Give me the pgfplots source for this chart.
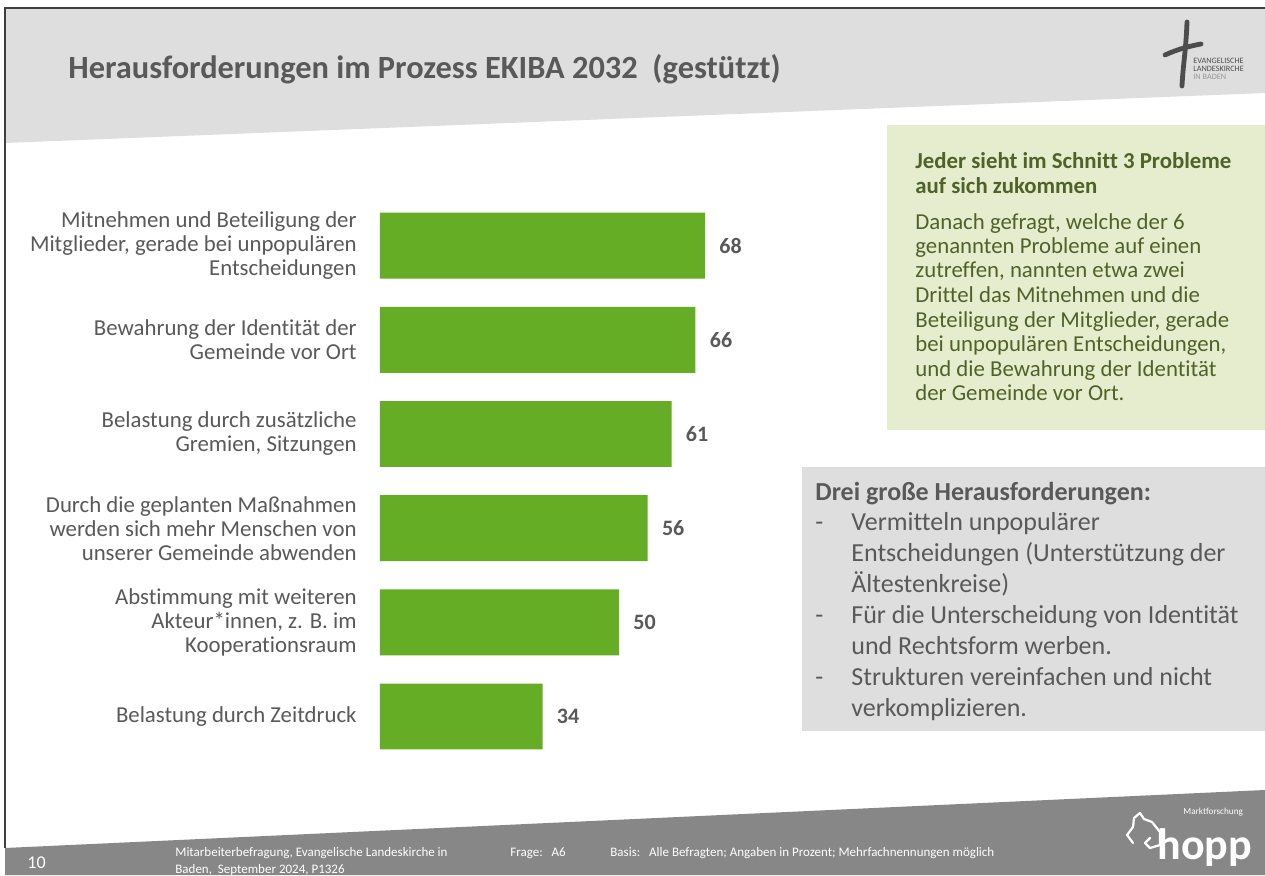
\documentclass[border=0pt]{standalone}
\usepackage{fontspec}
\setmainfont{Carlito}[Ligatures=NoCommon]
\usepackage{pgfplots}
\pgfplotsset{compat=1.18}
\definecolor{bargreen}{HTML}{64AD24}
\definecolor{hdrgrey}{HTML}{DEDEDE}
\definecolor{txtgrey}{HTML}{595959}
\definecolor{boxgreen}{HTML}{E6EDCF}
\definecolor{olive}{HTML}{4F6228}
\definecolor{footgrey}{HTML}{878787}
\definecolor{bordercol}{HTML}{3F3F3F}
\definecolor{logogrey}{HTML}{4D4D4D}
\begin{document}
\begin{tikzpicture}
\path[use as bounding box] (0,0) rectangle (632.5pt,437.5pt);
\fill[white] (0,0) rectangle (632.5pt,437.5pt);
\begin{scope}[x=0.5pt,y=-0.5pt,yshift=437.5pt]
% header band and footer band
\fill[hdrgrey] (5,8) -- (1265,8) -- (1265,93) -- (5,143) -- cycle;
\fill[footgrey] (5,848) -- (1265,790) -- (1265,875) -- (5,875) -- cycle;
\draw[bordercol,line width=0.8pt] (5,848) -- (5,8) -- (1265,8);
% title
\node[anchor=base west,inner sep=0,text=txtgrey,font=\fontsize{16.2}{18}\selectfont\bfseries] at (68,79) {Herausforderungen im Prozess EKIBA 2032\ \ (gestützt)};
% church logo
\draw[logogrey,line width=2.4pt,line cap=round] (1187,22) .. controls (1186,50) and (1183,65) .. (1182,86);
\draw[logogrey,line width=2.4pt,line cap=round] (1165,55) .. controls (1178,49) and (1190,46) .. (1201,44);
\node[anchor=base west,inner sep=0,text=logogrey,font=\fontsize{4.1}{5}\selectfont] at (1193,64) {EVANGELISCHE};
\node[anchor=base west,inner sep=0,text=logogrey,font=\fontsize{4.1}{5}\selectfont] at (1193,72) {LANDESKIRCHE};
\node[anchor=base west,inner sep=0,text=black!40,font=\fontsize{4.1}{5}\selectfont] at (1193,80) {IN BADEN};
% green box
\fill[boxgreen] (887,125) rectangle (1265,430);
\foreach \yy/\tt in {169/{Jeder sieht im Schnitt 3 Probleme},193/{auf sich zukommen}}{
  \node[anchor=base west,inner sep=0,text=olive,font=\fontsize{11.4}{13}\selectfont\bfseries] at (915,\yy) {\tt};
}
\foreach \yy/\tt in {229/{Danach gefragt, welche der 6},253.5/{genannten Probleme auf einen},278/{zutreffen, nannten etwa zwei},302.5/{Drittel das Mitnehmen und die},327/{Beteiligung der Mitglieder, gerade},351.5/{bei unpopulären Entscheidungen,},376/{und die Bewahrung der Identität},400.5/{der Gemeinde vor Ort.}}{
  \node[anchor=base west,inner sep=0,text=olive,font=\fontsize{11.4}{13}\selectfont] at (915,\yy) {\tt};
}
% grey box
\fill[hdrgrey] (802,467) rectangle (1265,731);
\node[anchor=base west,inner sep=0,text=txtgrey,font=\fontsize{13}{15}\selectfont\bfseries] at (815,500) {Drei große Herausforderungen:};
\foreach \yy in {530,623,685}{
  \node[anchor=base west,inner sep=0,text=txtgrey,font=\fontsize{13}{15}\selectfont] at (815,\yy) {-};
}
\foreach \yy/\tt in {530/{Vermitteln unpopulärer},561/{Entscheidungen (Unterstützung der},592/{Ältestenkreise)},623/{Für die Unterscheidung von Identität},654/{und Rechtsform werben.},685/{Strukturen vereinfachen und nicht},716/{verkomplizieren.}}{
  \node[anchor=base west,inner sep=0,text=txtgrey,font=\fontsize{13}{15}\selectfont] at (851,\yy) {\tt};
}
% footer texts
\node[anchor=base west,inner sep=0,text=white,font=\fontsize{9}{10}\selectfont] at (27,868) {10};
\node[anchor=base west,inner sep=0,text=white,font=\fontsize{6.5}{7}\selectfont] at (175,856) {Mitarbeiterbefragung, Evangelische Landeskirche in};
\node[anchor=base west,inner sep=0,text=white,font=\fontsize{6.5}{7}\selectfont] at (175,873) {Baden,\ \ September 2024, P1326};
\node[anchor=base west,inner sep=0,text=white,font=\fontsize{6.5}{7}\selectfont] at (510,856) {Frage:\ \ \ A6};
\node[anchor=base west,inner sep=0,text=white,font=\fontsize{6.5}{7}\selectfont] at (610,856) {Basis:\ \ \ Alle Befragten; Angaben in Prozent; Mehrfachnennungen möglich};
% hopp logo
\node[anchor=base west,inner sep=0,text=white,font=\fontsize{22}{24}\selectfont\bfseries] at (1157,859) {hopp};
\node[anchor=base west,inner sep=0,text=white,font=\fontsize{4.6}{5}\selectfont] at (1183,814) {Marktforschung};
\draw[white,line width=1.1pt,line join=round,line cap=round] (1133,843) -- (1127,835) -- (1133,827) -- (1134,818) -- (1140,813) -- (1144,819) -- (1152,822) -- (1160,832) -- (1160,845) -- (1150,848) -- (1145,843) -- (1150,838);
\end{scope}
\begin{axis}[
  at={(190pt,55.7pt)}, anchor=south west,
  xbar, scale only axis,
  width=239pt, height=282.5pt,
  xmin=0, xmax=100, ymin=-0.5, ymax=5.5,
  y dir=reverse,
  axis line style={draw=none},
  xtick=\empty,
  ytick={0,1,2,3,4,5},
  yticklabels={{Mitnehmen und Beteiligung der\\Mitglieder, gerade bei unpopulären\\Entscheidungen},
               {Bewahrung der Identität der\\Gemeinde vor Ort},
               {Belastung durch zusätzliche\\Gremien, Sitzungen},
               {Durch die geplanten Maßnahmen\\werden sich mehr Menschen von\\unserer Gemeinde abwenden},
               {Abstimmung mit weiteren\\Akteur*innen, z. B. im\\Kooperationsraum},
               {Belastung durch Zeitdruck}},
  major tick length=0pt,
  yticklabel style={align=right, font=\fontsize{11.4}{12}\selectfont, text=txtgrey, inner sep=0pt, xshift=-11.5pt},
  bar width=0.70,
  /pgf/number format/assume math mode=true,
  nodes near coords,
  nodes near coords style={font=\fontsize{11}{12}\selectfont\bfseries, text=txtgrey, inner sep=0pt, anchor=west, xshift=7pt},
  clip=false,
]
\addplot[fill=bargreen, draw=none] coordinates {(68,0) (66,1) (61,2) (56,3) (50,4) (34,5)};
\end{axis}
\end{tikzpicture}
\end{document}
